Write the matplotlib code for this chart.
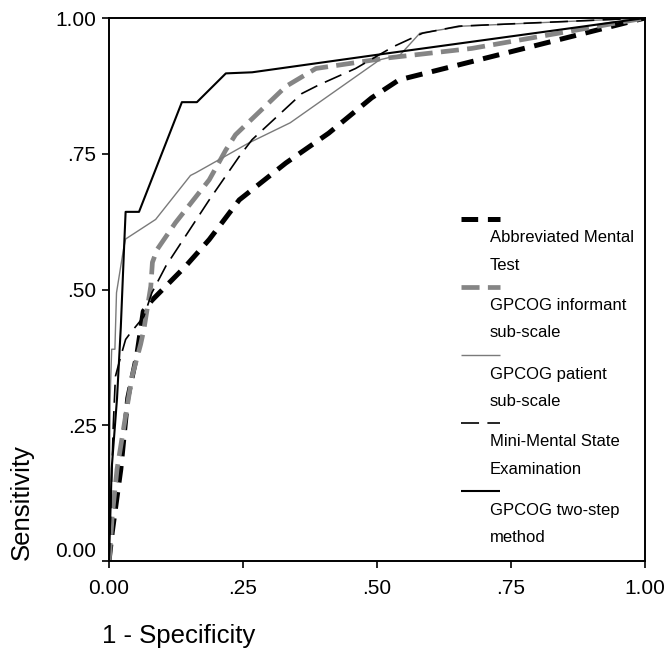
import matplotlib
matplotlib.use('Agg')
import matplotlib.pyplot as plt

plt.rcParams['font.family'] = ['Liberation Sans', 'DejaVu Sans']
plt.rcParams['lines.scale_dashes'] = False

# ROC curves (x = 1 - specificity, y = sensitivity)
amt_x = [0, 0.006, 0.022, 0.035, 0.052, 0.064, 0.08, 0.106, 0.143, 0.187, 0.243, 0.33, 0.41, 0.49, 0.541, 1.0]
amt_y = [0, 0.053, 0.169, 0.30, 0.38, 0.46, 0.48, 0.506, 0.543, 0.592, 0.665, 0.733, 0.788, 0.853, 0.886, 1.0]

inf_x = [0, 0.001, 0.006, 0.015, 0.028, 0.043, 0.059, 0.065, 0.078, 0.081, 0.09, 0.124, 0.187, 0.218, 0.236, 0.33, 0.386, 0.516, 0.677, 1.0]
inf_y = [0, 0.01, 0.083, 0.169, 0.249, 0.34, 0.399, 0.426, 0.506, 0.55, 0.574, 0.623, 0.702, 0.757, 0.785, 0.874, 0.907, 0.926, 0.944, 1.0]

pat_x = [0, 0.001, 0.002, 0.005, 0.011, 0.014, 0.027, 0.031, 0.087, 0.152, 0.162, 0.261, 0.338, 0.505, 0.543, 0.58, 0.66, 1.0]
pat_y = [0, 0.15, 0.296, 0.39, 0.39, 0.494, 0.574, 0.593, 0.629, 0.71, 0.715, 0.77, 0.807, 0.923, 0.932, 0.972, 0.985, 1.0]

mmse_x = [0, 0.004, 0.008, 0.012, 0.022, 0.031, 0.04, 0.065, 0.08, 0.106, 0.187, 0.243, 0.267, 0.36, 0.392, 0.46, 0.53, 0.585, 0.653, 1.0]
mmse_y = [0, 0.12, 0.25, 0.34, 0.377, 0.408, 0.42, 0.45, 0.494, 0.543, 0.665, 0.745, 0.776, 0.861, 0.877, 0.907, 0.947, 0.972, 0.985, 1.0]

two_x = [0, 0.005, 0.015, 0.022, 0.028, 0.031, 0.056, 0.136, 0.164, 0.218, 0.267, 0.52, 1.0]
two_y = [0, 0.17, 0.30, 0.43, 0.574, 0.643, 0.643, 0.845, 0.845, 0.898, 0.90, 0.935, 1.0]

ticks = [0, 0.25, 0.5, 0.75, 1.0]
tick_labels = ['0.00', '.25', '.50', '.75', '1.00']

names = [['Abbreviated Mental', 'Test'],
         ['GPCOG informant', 'sub-scale'],
         ['GPCOG patient', 'sub-scale'],
         ['Mini-Mental State', 'Examination'],
         ['GPCOG two-step', 'method']]

styles = [dict(color='black', lw=3.6, dashes=(12, 7)),
          dict(color='#858585', lw=3.4, dashes=(13, 6)),
          dict(color='#7a7a7a', lw=1.0),
          dict(color='black', lw=1.2, dashes=(13, 6)),
          dict(color='black', lw=1.5)]

series = [(amt_x, amt_y), (inf_x, inf_y), (pat_x, pat_y), (mmse_x, mmse_y), (two_x, two_y)]

fig = plt.figure(figsize=(6.68, 6.48), dpi=100)
ax = fig.add_axes([109/668, 1 - 561/648, 536/668, 543/648])

for (xs, ys), st in zip(series, styles):
    ax.plot(xs, ys, solid_capstyle='butt', dash_capstyle='butt', **st)

ax.set_xlim(0, 1)
ax.set_ylim(0, 1)
ax.set_xticks(ticks)
ax.set_xticklabels(tick_labels)
ax.set_yticks(ticks)
ax.set_yticklabels(tick_labels)
ax.tick_params(direction='out', length=5, width=1.2, labelsize=15)
ax.tick_params(axis='x', pad=8)
ax.tick_params(axis='y', pad=4)
ax.get_yticklabels()[0].set_va('bottom')
for sp in ax.spines.values():
    sp.set_linewidth(1.4)

# legend drawn by hand: line above a two-line label
h = 543.0
for i, (lab, st) in enumerate(zip(names, styles)):
    hy = (561 - (219 + 68 * i)) / h
    ax.plot([0.656, 0.729], [hy, hy], transform=ax.transAxes, clip_on=False,
            solid_capstyle='butt', dash_capstyle='butt', **st)
    ax.text(0.71, hy - 19 / h, lab[0], transform=ax.transAxes, fontsize=12, va='center')
    ax.text(0.71, hy - 46 / h, lab[1], transform=ax.transAxes, fontsize=12, va='center')

fig.text(22/668, 1 - 560/648, 'Sensitivity', rotation=90, ha='center', va='bottom', fontsize=18.5)
fig.text(102/668, 1 - 643/648, '1 - Specificity', ha='left', va='baseline', fontsize=18.5)

fig.savefig('out.png', dpi=100)
